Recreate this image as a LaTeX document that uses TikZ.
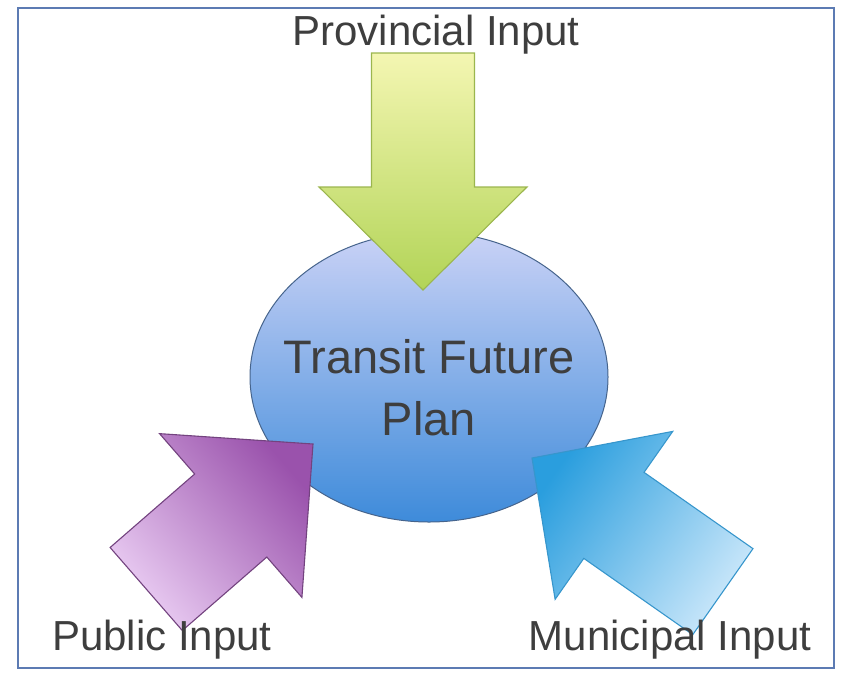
\documentclass[tikz,border=0pt]{standalone}
\usepackage{fontspec}
\setmainfont{Liberation Sans}
\usepackage{tikz}
\usetikzlibrary{positioning,shapes.geometric}
\usepackage{xcolor}
\definecolor{framec}{HTML}{5C7BB3}
\definecolor{textgrey}{HTML}{3E3E3E}
\definecolor{limetop}{HTML}{F4F6B2}
\definecolor{limebot}{HTML}{B2D457}
\definecolor{limeline}{HTML}{9BB64E}
\definecolor{plantop}{HTML}{CAD2F6}
\definecolor{planbot}{HTML}{3E8BDA}
\definecolor{planline}{HTML}{46648C}
\definecolor{plumlight}{HTML}{EACDF3}
\definecolor{plumdark}{HTML}{9A52AC}
\definecolor{plumline}{HTML}{73437F}
\definecolor{skydark}{HTML}{2A9EDE}
\definecolor{skylight}{HTML}{CAE7FA}
\definecolor{skyline}{HTML}{3796CC}

\begin{document}
\begin{tikzpicture}[x=1pt, y=-1pt,
    inputlabel/.style={font=\fontsize{42}{50}\selectfont, text=textgrey, inner sep=0pt, anchor=base},
    blockarrow/.style={line width=1.1pt, line join=miter}]
    \useasboundingbox (0,0) rectangle (842,673);
    \draw[framec, line width=1.8pt] (18,8) rectangle (834,668);

    % central ellipse
    \node (plan) [ellipse, draw=planline, line width=1pt, minimum width=358pt, minimum height=290pt,
        top color=plantop, bottom color=planbot] at (429,377) {};
    \node[font=\fontsize{47}{62}\selectfont, text=textgrey, align=center, inner sep=0pt]
        at (429,388) {Transit Future\\Plan};

    % provincial arrow, pointing down
    \begin{scope}[shift={(423,290)}, rotate=-90]
        \draw[blockarrow, draw=limeline, top color=limetop, bottom color=limebot]
            (0,0) -- (-103,104) -- (-103,51.5) -- (-237,51.5) -- (-237,-51.5) -- (-103,-51.5) -- (-103,-104) -- cycle;
    \end{scope}

    % public arrow, pointing up right
    \begin{scope}[shift={(313,444)}, rotate=41]
        \draw[blockarrow, draw=plumline, left color=plumlight, right color=plumdark, shading angle=131]
            (0,0) -- (-109,108.5) -- (-109,55) -- (-221,55) -- (-221,-55) -- (-109,-55) -- (-109,-108.5) -- cycle;
    \end{scope}

    % municipal arrow, pointing up left
    \begin{scope}[shift={(532,458)}, rotate=145]
        \draw[blockarrow, draw=skyline, left color=skydark, right color=skylight, shading angle=55]
            (0,0) -- (-100,102.5) -- (-100,52.5) -- (-233,52.5) -- (-233,-52.5) -- (-100,-52.5) -- (-100,-102.5) -- cycle;
    \end{scope}

    \node (provincial) [inputlabel] at (436,45) {Provincial Input};
    \node (public) [inputlabel] at (162,650) {Public Input};
    \node (municipal) [inputlabel] at (670,650) {Municipal Input};
\end{tikzpicture}
\end{document}
